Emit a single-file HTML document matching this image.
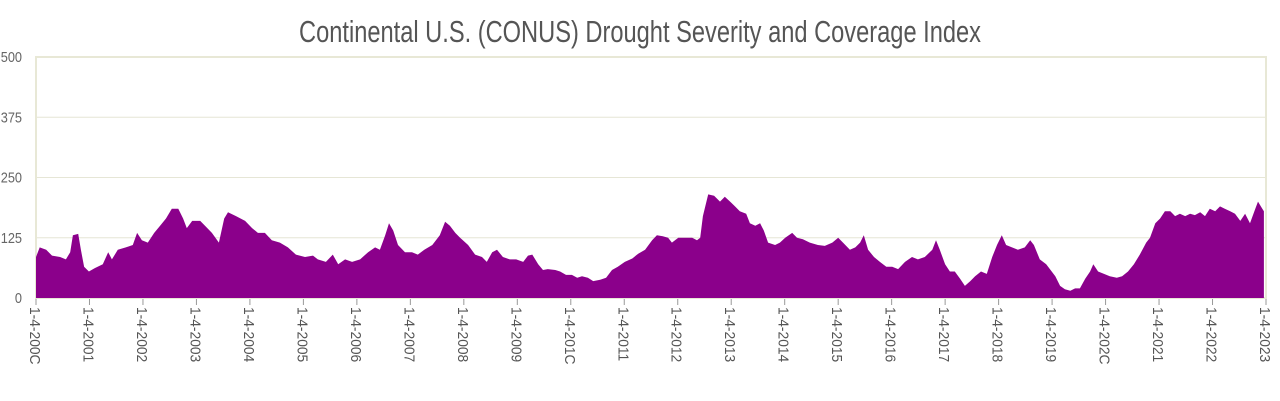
<!DOCTYPE html>
<html><head><meta charset="utf-8">
<style>
html,body{margin:0;padding:0;background:#fff;}
svg{display:block;font-family:"Liberation Sans Narrow","Liberation Sans",sans-serif;}
</style></head>
<body>
<svg id="chart" width="1280" height="401">
<text x="640" y="42" text-anchor="middle" font-size="31" fill="#555" textLength="682" lengthAdjust="spacingAndGlyphs">Continental U.S. (CONUS) Drought Severity and Coverage Index</text>
<g id="grid"></g>
<path id="area" fill="#8b008b"></path>
<g id="axes"></g>
</svg>
<script>
const yTicks=[0,125,250,375,500];
const xYears=[2000,2001,2002,2003,2004,2005,2006,2007,2008,2009,2010,2011,2012,2013,2014,2015,2016,2017,2018,2019,2020,2021,2022,2023];
const xLabels=["1-4-200C","1-4-2001","1-4-2002","1-4-2003","1-4-2004","1-4-2005","1-4-2006","1-4-2007","1-4-2008","1-4-2009","1-4-201C","1-4-2011","1-4-2012","1-4-2013","1-4-2014","1-4-2015","1-4-2016","1-4-2017","1-4-2018","1-4-2019","1-4-202C","1-4-2021","1-4-2022","1-4-2023"];
const tYears=[0,.07,.19,.30,.45,.56,.64,.69,.79,.84,.90,.99,1.10,1.25,1.35,1.42,1.53,1.68,1.81,1.89,1.98,2.09,2.21,2.32,2.43,2.54,2.66,2.75,2.82,2.92,3.07,3.16,3.29,3.42,3.52,3.59,3.74,3.91,4.04,4.15,4.28,4.41,4.56,4.71,4.86,5.03,5.18,5.27,5.42,5.55,5.65,5.78,5.91,6.06,6.21,6.34,6.43,6.53,6.60,6.68,6.77,6.90,7.03,7.14,7.26,7.41,7.55,7.65,7.74,7.84,7.93,8.08,8.21,8.34,8.43,8.53,8.62,8.73,8.86,8.98,9.11,9.20,9.28,9.39,9.48,9.57,9.71,9.80,9.91,10.02,10.12,10.21,10.32,10.42,10.55,10.66,10.77,10.88,11.01,11.15,11.26,11.39,11.52,11.61,11.72,11.82,11.89,12.01,12.14,12.27,12.36,12.42,12.47,12.57,12.68,12.79,12.88,12.98,13.07,13.16,13.28,13.35,13.45,13.54,13.61,13.69,13.82,13.91,14.01,14.14,14.23,14.34,14.47,14.62,14.75,14.89,15.00,15.09,15.22,15.32,15.41,15.48,15.56,15.67,15.78,15.90,16.01,16.12,16.25,16.38,16.49,16.62,16.76,16.83,16.90,17.00,17.09,17.18,17.28,17.37,17.47,17.56,17.67,17.78,17.88,17.97,18.06,18.14,18.25,18.36,18.49,18.59,18.66,18.77,18.89,18.96,19.06,19.15,19.24,19.34,19.43,19.52,19.62,19.71,19.77,19.86,19.97,20.08,20.21,20.31,20.42,20.53,20.64,20.76,20.83,20.93,21.02,21.11,21.21,21.30,21.39,21.49,21.58,21.67,21.77,21.86,21.95,22.05,22.14,22.23,22.33,22.42,22.52,22.61,22.70,22.80,22.85,22.93,22.96];
const dsci=[85,105,100,88,85,80,95,130,133,100,65,55,62,70,95,80,100,105,110,135,120,115,135,150,165,185,185,165,145,160,160,150,135,115,165,178,170,160,145,135,135,120,115,105,90,85,88,80,75,90,70,80,75,80,95,105,100,130,155,140,110,95,95,90,100,110,130,158,150,135,125,110,90,85,75,95,100,85,80,80,75,88,90,70,58,60,58,55,48,48,42,45,42,35,38,42,58,65,75,82,92,100,120,130,128,125,115,125,125,125,120,125,170,215,212,200,210,200,190,180,175,155,150,155,140,115,110,115,125,135,125,122,115,110,108,115,125,115,100,105,115,130,100,85,75,65,65,60,75,85,80,85,100,120,100,70,55,55,40,25,35,45,55,50,85,110,130,110,105,100,105,120,110,80,70,60,45,25,18,15,20,20,40,55,70,55,50,45,42,45,55,70,90,115,125,155,165,180,180,170,175,170,175,172,178,170,185,180,190,185,180,175,160,175,155,185,200,185,180];

const L=36,R=1266,T=57,B=298;
const xs=y=>L+(y-2000)/23*(R-L);
const ys=v=>B-v/500*(B-T);
const NS="http://www.w3.org/2000/svg";
const grid=document.getElementById('grid'),axes=document.getElementById('axes');
function mk(tag,attrs,parent){const e=document.createElementNS(NS,tag);for(const k in attrs)e.setAttribute(k,attrs[k]);parent.appendChild(e);return e;}
yTicks.forEach(t=>{
  const ln=mk('line',{x1:L,x2:R,y1:ys(t),y2:ys(t),stroke:'#e6e6d6','stroke-width':1},grid);
  
  
  const tx=mk('text',{x:0,y:0,'text-anchor':'end','font-size':15,fill:'#666',transform:`translate(22,${ys(t)+5}) scale(0.85,1)`},axes);
  tx.textContent=t;
  
  
});
const fr=mk('rect',{x:L,y:T,width:R-L,height:B-T,fill:'none',stroke:'#e8e8d6','stroke-width':2},grid);


let d='M'+xs(2000+tYears[0])+','+B;
tYears.forEach((t,i)=>{d+=' L'+xs(2000+t).toFixed(1)+','+ys(dsci[i]).toFixed(1);});
d+=' L'+xs(2000+tYears[tYears.length-1]).toFixed(1)+','+B+' Z';
document.getElementById('area').setAttribute('d',d);
xYears.forEach((yr,i)=>{
  const x=xs(yr);
  const tk=mk('line',{x1:x,x2:x,y1:B+1,y2:B+7,stroke:'#999','stroke-width':1},axes);
  
  
  const tx=mk('text',{x:0,y:0,'font-size':15,fill:'#555',transform:`translate(${x-6},${B+9}) rotate(90) scale(0.92,1)`},axes);
  tx.textContent=xLabels[i];
  
  
});
</script>
</body></html>
